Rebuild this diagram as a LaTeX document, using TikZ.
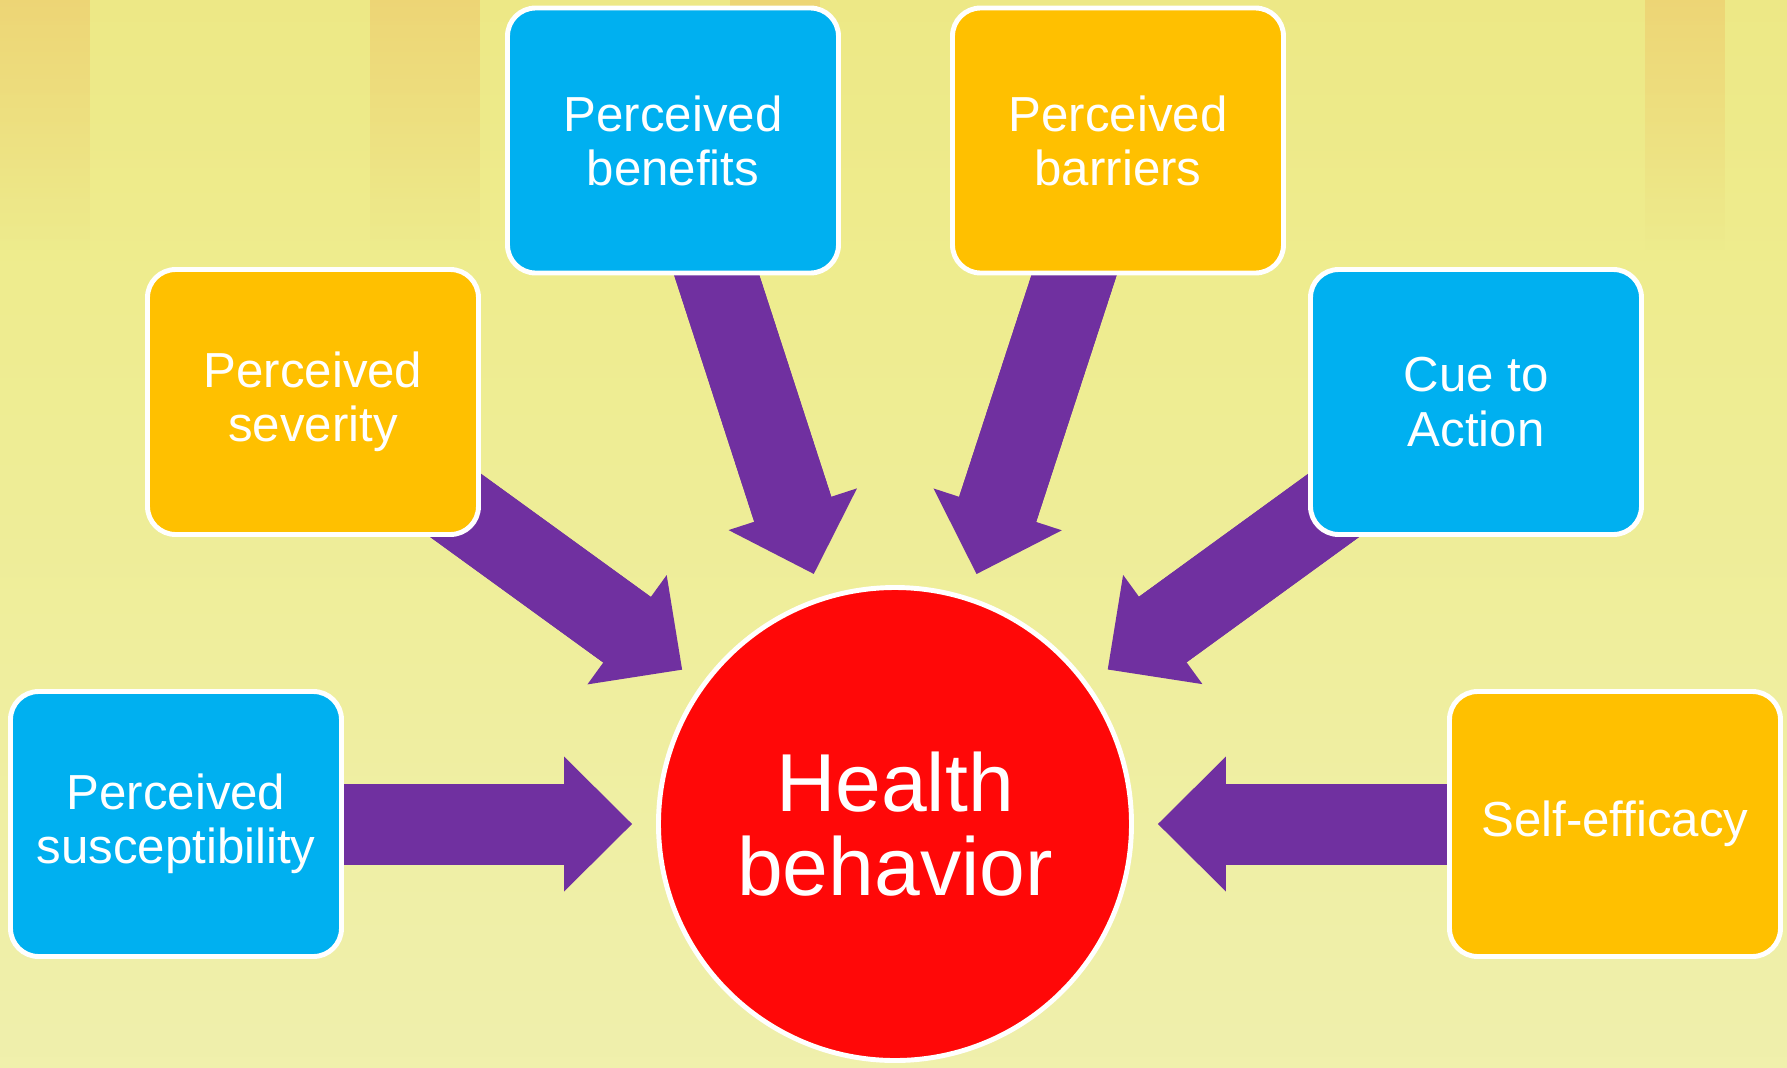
\documentclass[tikz,border=0pt]{standalone}
\usepackage{fontspec}
\setmainfont{Liberation Sans}
\usetikzlibrary{arrows.meta,positioning,fadings,backgrounds}

\definecolor{cueblue}{HTML}{00B0F0}
\definecolor{cueamber}{HTML}{FFC000}
\definecolor{flowpurple}{HTML}{7030A0}
\definecolor{corered}{HTML}{FF0808}
\definecolor{streakorange}{HTML}{EDBF62}
\pgfdeclareverticalshading{backdropfade}{100bp}{%
  color(0bp)=(rgb,255:red,241;green,241;blue,188);
  color(34bp)=(rgb,255:red,239;green,239;blue,166);
  color(62bp)=(rgb,255:red,238;green,236;blue,142);
  color(86bp)=(rgb,255:red,236;green,229;blue,127);
  color(100bp)=(rgb,255:red,235;green,214;blue,123)}
\pgfdeclarelayer{backdrop}
\pgfsetlayers{backdrop,background,main}

\begin{document}
\begin{tikzpicture}[
  factor/.style={draw=white, line width=1.4pt, rounded corners=8pt, minimum width=3.31cm, minimum height=2.65cm, align=center, text=white, font=\fontsize{14}{15.4}\selectfont},
  core/.style={circle, draw=white, line width=1.4pt, fill=corered, minimum size=4.73cm, align=center, text=white, font=\fontsize{23.4}{24}\selectfont},
  flow/.style={draw=flowpurple, line width=0.81cm, -{Triangle[length=0.68cm, width=1.35cm, line width=0pt]}, shorten >=0.24cm},
  flowbody/.style={draw=flowpurple, line width=0.81cm, shorten >=0.8cm},
  streak/.style={fill=streakorange, opacity=0.45, path fading=south},
]
\useasboundingbox (-8.95,-2.43) rectangle (8.92,8.24);

% the model: six factors around the behaviour
\node[core] (hb) at (0,0) {Health\\behavior};
\node[factor, fill=cueblue] (susc) at (-7.19,0) {Perceived\\susceptibility};
\node[factor, fill=cueamber] (sev) at (-5.82,4.22) {Perceived\\severity};
\node[factor, fill=cueblue] (ben) at (-2.22,6.835) {Perceived\\benefits};
\node[factor, fill=cueamber] (bar) at (2.23,6.835) {Perceived\\barriers};
\node[factor, fill=cueblue] (cue) at (5.81,4.22) {Cue to\\Action};
\node[factor, fill=cueamber] (self) at (7.20,0) {Self-efficacy};

% block arrows, tucked under the boxes
% (second stroke runs the shaft into the head so no seam shows)
\begin{scope}[on background layer]
  \foreach \src in {susc,sev,ben,bar,cue,self}{
    \draw[flow] (\src.center) -- (hb);
    \draw[flowbody] (\src.center) -- (hb);
  }
\end{scope}

% backdrop
\begin{pgfonlayer}{backdrop}
  \shade[shading=backdropfade] (-8.95,-2.43) rectangle (8.92,8.24);
  \foreach \xa/\xb in {-8.95/-8.05,-5.25/-4.15,-1.65/-0.75,7.50/8.30}
    \fill[streak] (\xa,5.74) rectangle (\xb,8.24);
\end{pgfonlayer}
\end{tikzpicture}
\end{document}
